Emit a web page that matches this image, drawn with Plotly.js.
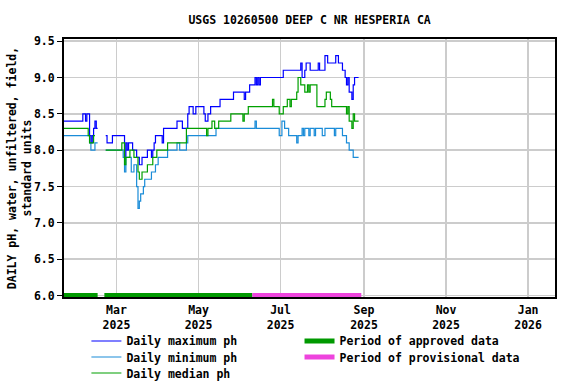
<!DOCTYPE html>
<html>
<head>
<meta charset="utf-8">
<script src="https://cdn.plot.ly/plotly-3.0.1.min.js"></script>
<style>html,body{margin:0;padding:0;background:#fff;}#chart{width:576px;height:384px;}</style>
</head>
<body>
<div id="chart"></div>
<script>
// Daily maximum pH (change points; null = data gap)
const maxDates = ['2025-01-21','2025-02-04','2025-02-06','2025-02-07','2025-02-09','2025-02-10','2025-02-11','2025-02-12','2025-02-13','2025-02-14','2025-02-15',null,
'2025-02-21','2025-02-22','2025-02-26','2025-03-07','2025-03-08','2025-03-09','2025-03-10','2025-03-13','2025-03-16','2025-03-18','2025-03-20','2025-03-24','2025-03-27','2025-03-28','2025-03-29','2025-03-30','2025-04-04','2025-04-05','2025-04-15','2025-04-19','2025-04-23','2025-04-24','2025-04-27','2025-04-29','2025-05-05','2025-05-06','2025-05-08','2025-05-10','2025-05-17','2025-05-27','2025-06-04','2025-06-05','2025-06-08','2025-06-12','2025-06-13','2025-06-14','2025-06-15','2025-06-16','2025-07-03','2025-07-16','2025-07-17','2025-07-19','2025-07-20','2025-07-23','2025-07-29','2025-07-30','2025-08-03','2025-08-05','2025-08-11','2025-08-13','2025-08-16','2025-08-18','2025-08-19','2025-08-20','2025-08-21','2025-08-23','2025-08-24','2025-08-25','2025-08-28'];
const maxVals = [8.4,8.5,8.4,8.5,8.2,8.1,8.2,8.3,8.4,8.3,8.3,null,
8.2,8.1,8.2,7.9,8.1,8.0,8.1,8.0,7.9,7.8,7.9,8.0,7.9,8.0,8.1,8.2,8.1,8.3,8.4,8.3,8.5,8.6,8.5,8.6,8.5,8.4,8.5,8.6,8.7,8.8,8.7,8.8,8.9,9.0,8.9,9.0,8.9,9.0,9.1,9.2,9.0,9.1,9.2,9.1,9.2,9.1,9.3,9.2,9.3,9.2,9.1,9.0,8.9,9.0,8.8,8.7,8.9,9.0,9.0];

// Daily minimum pH
const minDates = ['2025-01-21','2025-02-09','2025-02-10','2025-02-13','2025-02-15',null,
'2025-02-21','2025-03-06','2025-03-07','2025-03-08','2025-03-12','2025-03-14','2025-03-16','2025-03-17','2025-03-18','2025-03-19','2025-03-21','2025-03-22','2025-03-27','2025-03-30','2025-04-01','2025-04-08','2025-04-15','2025-04-17','2025-04-22','2025-04-23','2025-05-14','2025-06-12','2025-06-13','2025-06-30','2025-07-02','2025-07-04','2025-07-07','2025-07-13','2025-07-14','2025-07-17','2025-07-18','2025-07-19','2025-07-22','2025-07-23','2025-07-26','2025-07-27','2025-08-01','2025-08-03','2025-08-10','2025-08-11','2025-08-16','2025-08-19','2025-08-21','2025-08-24','2025-08-28'];
const minVals = [8.2,8.1,8.0,8.1,8.1,null,
8.0,7.9,7.7,7.9,7.7,7.8,7.5,7.2,7.3,7.4,7.5,7.6,7.7,7.8,7.9,8.0,8.1,8.0,8.1,8.2,8.3,8.4,8.3,8.2,8.4,8.3,8.2,8.1,8.2,8.3,8.2,8.3,8.2,8.3,8.2,8.3,8.2,8.3,8.2,8.3,8.2,8.1,8.0,7.9,7.9];

// Daily median pH
const medDates = ['2025-01-21','2025-02-08','2025-02-09','2025-02-12','2025-02-13',null,
'2025-02-21','2025-03-05','2025-03-07','2025-03-08','2025-03-11','2025-03-14','2025-03-17','2025-03-18','2025-03-20','2025-03-24','2025-03-28','2025-03-31','2025-04-08','2025-04-22','2025-05-07','2025-05-08','2025-05-11','2025-05-13','2025-05-16','2025-05-25','2025-06-03','2025-06-04','2025-06-07','2025-06-25','2025-06-26','2025-06-30','2025-07-03','2025-07-06','2025-07-08','2025-07-09','2025-07-13','2025-07-14','2025-07-16','2025-07-19','2025-07-21','2025-07-22','2025-07-23','2025-07-28','2025-08-03','2025-08-04','2025-08-07','2025-08-08','2025-08-19','2025-08-20','2025-08-21','2025-08-23','2025-08-24','2025-08-25','2025-08-28'];
const medVals = [8.3,8.2,8.1,8.2,8.2,null,
8.0,8.1,7.8,7.9,8.0,7.9,7.7,7.6,7.7,7.8,7.9,8.0,8.1,8.3,8.2,8.3,8.4,8.3,8.4,8.5,8.4,8.5,8.6,8.7,8.6,8.5,8.6,8.7,8.6,8.7,8.8,9.0,8.9,8.8,8.9,8.8,8.9,8.6,8.7,8.8,8.7,8.6,8.5,8.6,8.4,8.3,8.5,8.4,8.4];

// Data-status periods
const approvedStart = ['2025-01-21','2025-02-20'];
const approvedEnd   = ['2025-02-15','2025-06-10'];
const provisionalStart = ['2025-06-10'];
const provisionalEnd   = ['2025-08-30'];

// Axis ticks and titles
const xTickVals = ['2025-03-01','2025-05-01','2025-07-01','2025-09-01','2025-11-01','2026-01-01'];
const xTickText = ['Mar<br>2025','May<br>2025','Jul<br>2025','Sep<br>2025','Nov<br>2025','Jan<br>2026'];
const yTickVals = [6.0,6.5,7.0,7.5,8.0,8.5,9.0,9.5];
const yTitle = 'DAILY pH, water, unfiltered, field,<br>standard units';

const BAR_LEVEL = 6.0;
function periodXY(starts, ends){
  const x=[], y=[];
  starts.forEach((s,i)=>{ x.push(s, ends[i], null); y.push(BAR_LEVEL, BAR_LEVEL, null); });
  return {x, y};
}
const ap = periodXY(approvedStart, approvedEnd);
const pp = periodXY(provisionalStart, provisionalEnd);

const FONT = {family:'DejaVu Sans Mono', size:11.5, color:'#000', weight:'bold'};

const traces = [
  {x:maxDates, y:maxVals, type:'scatter', mode:'lines', name:'Daily maximum ph', line:{color:'#0000ff', width:1.2, shape:'hv'}, connectgaps:false, legend:'legend'},
  {x:minDates, y:minVals, type:'scatter', mode:'lines', name:'Daily minimum ph', line:{color:'#1a8cd8', width:1.2, shape:'hv'}, connectgaps:false, legend:'legend3'},
  {x:medDates, y:medVals, type:'scatter', mode:'lines', name:'Daily median ph', line:{color:'#00a000', width:1.2, shape:'hv'}, connectgaps:false, legend:'legend5'},
  {x:ap.x, y:ap.y, type:'scatter', mode:'lines', name:'Period of approved data', line:{color:'#009900', width:5}, connectgaps:false, legend:'legend2'},
  {x:pp.x, y:pp.y, type:'scatter', mode:'lines', name:'Period of provisional data', line:{color:'#ee44dd', width:5}, connectgaps:false, legend:'legend4'}
];

function leg(x, y){
  return {x:x, y:y, xref:'container', yref:'container', xanchor:'left', yanchor:'middle', orientation:'v', bgcolor:'rgba(0,0,0,0)', borderwidth:0, font:FONT};
}

const layout = {
  width:576, height:384,
  margin:{l:64, r:21, t:39, b:87, autoexpand:false},
  paper_bgcolor:'#fff', plot_bgcolor:'#fff',
  font:FONT,
  title:{text:'USGS 10260500 DEEP C NR HESPERIA CA', font:FONT, x:0.5375, xanchor:'center', y:0.948, yanchor:'middle', yref:'container'},
  xaxis:{type:'date', range:['2025-01-21','2026-01-21'], tickmode:'array', tickvals:xTickVals, ticktext:xTickText,
    showgrid:true, gridcolor:'#cccccc', gridwidth:1.5, showline:true, linecolor:'#000', linewidth:2, mirror:true,
    ticks:'', tickfont:FONT, zeroline:false, ticklabelstandoff:1},
  yaxis:{range:[5.98, 9.53], tickmode:'array', tickvals:yTickVals, tickformat:'.1f',
    showgrid:true, gridcolor:'#cccccc', gridwidth:1.5, showline:true, linecolor:'#000', linewidth:2, mirror:true,
    ticks:'outside', ticklen:5, tickcolor:'#000', tickfont:FONT, zeroline:false},
  annotations:[{text:yTitle, textangle:-90, xref:'paper', yref:'paper', x:-0.0913, y:0.5, xanchor:'center', yanchor:'middle',
    showarrow:false, font:FONT, align:'center'}],
  showlegend:true,
  legend: leg(0.150, 0.112),
  legend3: leg(0.150, 0.0703),
  legend5: leg(0.150, 0.0286),
  legend2: leg(0.520, 0.112),
  legend4: leg(0.520, 0.0703)
};

Plotly.newPlot('chart', traces, layout, {staticPlot:true, displayModeBar:false});
</script>
</body>
</html>
